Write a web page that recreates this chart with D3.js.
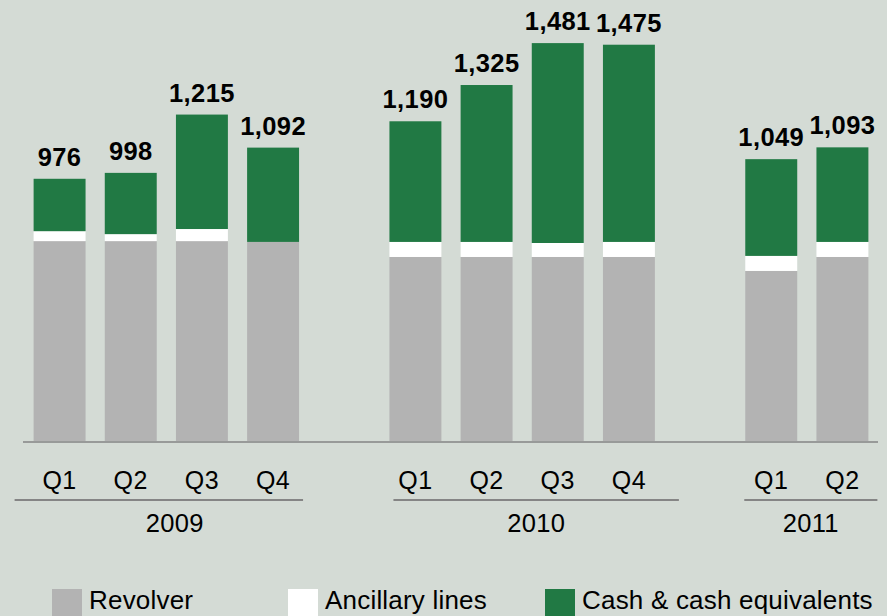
<!DOCTYPE html>
<html>
<head>
<meta charset="utf-8">
<script src="https://cdn.jsdelivr.net/npm/d3@7"></script>
<style>
  html, body { margin: 0; padding: 0; background: #d4dbd5; }
  svg { display: block; font-family: "Liberation Sans", Arial, sans-serif; }
</style>
</head>
<body>
<svg id="chart" width="887" height="616"></svg>
<script>
// data
var years    = ["2009", "2009", "2009", "2009", "2010", "2010", "2010", "2010", "2011", "2011"];
var quarters = ["Q1", "Q2", "Q3", "Q4", "Q1", "Q2", "Q3", "Q4", "Q1", "Q2"];
var revolver  = [744, 744, 744, 741, 685, 685, 685, 685, 633, 685];
var ancillary = [37, 26, 45, 0, 56, 56, 52, 56, 56, 56];
var cash      = [195, 228, 426, 351, 449, 584, 744, 734, 360, 352];
var totals    = [976, 998, 1215, 1092, 1190, 1325, 1481, 1475, 1049, 1093];
var seriesNames = ["Revolver", "Ancillary lines", "Cash & cash equivalents"];

var colors = ["#b3b3b3", "#ffffff", "#217944"];
var lineColor = "#858585";

var svg = d3.select("#chart");

// one slot per bar, plus an empty slot between years
var slots = [];
years.forEach(function(y, i){
  if (i > 0 && y != years[i-1]) slots.push("gap" + i);
  slots.push(y + quarters[i]);
});

var x = d3.scaleBand()
  .domain(slots)
  .range([24, 878])
  .paddingInner(0.27)
  .paddingOuter(0.135);

var y = d3.scaleLinear()
  .domain([0, 1500])
  .range([441, 38]);

var rows = years.map(function(yr, i){
  return {key: yr + quarters[i], year: yr, q: quarters[i],
          revolver: revolver[i], ancillary: ancillary[i], cash: cash[i], total: totals[i]};
});

var stack = d3.stack().keys(["revolver", "ancillary", "cash"]);
var layers = stack(rows);

svg.selectAll("g.layer")
  .data(layers)
  .enter()
  .append("g")
  .attr("class", "layer")
  .attr("fill", function(d, i){ return colors[i]; })
  .selectAll("rect")
  .data(function(d){ return d; })
  .enter()
  .append("rect")
  .attr("x", function(d){ return x(d.data.key); })
  .attr("width", x.bandwidth())
  .attr("y", function(d){ return y(d[1]); })
  .attr("height", function(d){ return y(d[0]) - y(d[1]); });

// totals above bars
svg.selectAll("text.total")
  .data(rows)
  .enter()
  .append("text")
  .attr("class", "total")
  .attr("x", function(d){ return x(d.key) + x.bandwidth() / 2; })
  .attr("y", function(d){ return y(d.total) - 13; })
  .attr("text-anchor", "middle")
  .style("font-size", "25.5px")
  .style("font-weight", "bold")
  .style("letter-spacing", "0.4px")
  .attr("fill", "#000")
  .text(function(d){ return d3.format(",")(d.total); });

// baseline
svg.append("line")
  .attr("x1", 23).attr("x2", 878)
  .attr("y1", 442).attr("y2", 442)
  .attr("stroke", lineColor)
  .attr("stroke-width", 1.5);

// quarter labels
svg.selectAll("text.q")
  .data(rows)
  .enter()
  .append("text")
  .attr("class", "q")
  .attr("x", function(d){ return x(d.key) + x.bandwidth() / 2; })
  .attr("y", 489)
  .attr("text-anchor", "middle")
  .style("font-size", "25px")
  .style("letter-spacing", "0.5px")
  .attr("fill", "#000")
  .text(function(d){ return d.q; });

// year brackets
var groupLayout = {
  "2009": {left: -19, right: 4, dx: 16},
  "2010": {left: 4, right: 24, dx: 0},
  "2011": {left: -1, right: 9, dx: 0}
};
var groups = d3.groups(rows, function(d){ return d.year; }).map(function(g){
  var lay = groupLayout[g[0]];
  var x0 = x(g[1][0].key) + lay.left;
  var x1 = x(g[1][g[1].length - 1].key) + x.bandwidth() + lay.right;
  return {year: g[0], x0: x0, x1: x1, dx: lay.dx};
});

svg.selectAll("line.year")
  .data(groups)
  .enter()
  .append("line")
  .attr("class", "year")
  .attr("x1", function(d){ return d.x0; })
  .attr("x2", function(d){ return d.x1; })
  .attr("y1", 500).attr("y2", 500)
  .attr("stroke", lineColor)
  .attr("stroke-width", 2.2);

svg.selectAll("text.year")
  .data(groups)
  .enter()
  .append("text")
  .attr("class", "year")
  .attr("x", function(d){ return (d.x0 + d.x1) / 2 + d.dx; })
  .attr("y", 532)
  .attr("text-anchor", "middle")
  .style("font-size", "25.5px")
  .style("letter-spacing", "0.3px")
  .attr("fill", "#000")
  .text(function(d){ return d.year; });

// legend
var legendX = [52, 288, 545];
var legend = svg.selectAll("g.legend")
  .data(seriesNames)
  .enter()
  .append("g")
  .attr("class", "legend")
  .attr("transform", function(d, i){ return "translate(" + legendX[i] + ",589)"; });

legend.append("rect")
  .attr("width", 30)
  .attr("height", 30)
  .attr("fill", function(d, i){ return colors[i]; });

legend.append("text")
  .attr("x", 37)
  .attr("y", 19.5)
  .style("font-size", "26px")
  .style("letter-spacing", "0.2px")
  .attr("fill", "#000")
  .text(function(d){ return d; });
</script>
</body>
</html>
